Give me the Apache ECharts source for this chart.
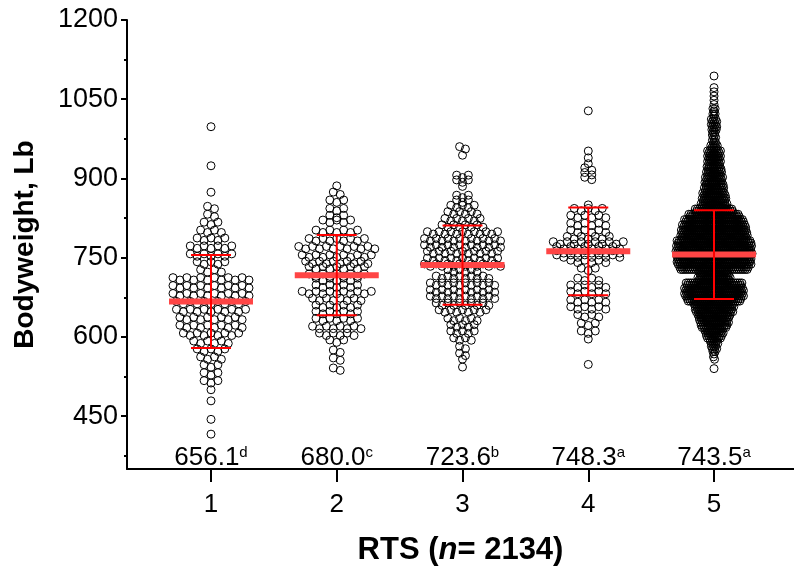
<!DOCTYPE html>
<html><head><meta charset="utf-8">
<script src="https://cdn.jsdelivr.net/npm/echarts@6/dist/echarts.min.js"></script>
<style>html,body{margin:0;padding:0;background:#fff}#c{width:794px;height:571px}</style>
</head><body><div id="c"></div>
<script>
// ---------- data ----------
const categories = ['1', '2', '3', '4', '5'];

// each group: row values (Lb) and number of points in that row
const g1Values = [998, 924, 874, 845, 830, 815, 800, 785, 770, 755, 740, 725, 710, 695, 680, 665, 650, 635, 620, 605, 590, 575, 560, 545, 530, 515, 500, 479, 444, 416];
const g1Counts = [1, 1, 1, 2, 2, 3, 4, 5, 7, 7, 5, 4, 12, 12, 12, 11, 11, 10, 10, 9, 6, 5, 4, 3, 3, 3, 1, 1, 1, 1];

const g2Values = [886, 872, 857, 841, 828, 819, 800, 784, 769, 753, 741, 731, 717, 709, 696, 684, 671, 658, 646, 633, 618, 605, 592, 573, 558, 539];
const g2Counts = [1, 2, 3, 3, 3, 5, 7, 9, 12, 11, 10, 9, 9, 7, 7, 11, 8, 7, 7, 7, 8, 6, 3, 2, 2, 2];

const g3Values = [958, 944, 904, 895, 885, 866, 857, 847, 835, 822, 810, 797, 784, 772, 760, 747, 736, 725, 713, 700, 687, 675, 662, 649, 633, 621, 609, 596, 580, 567, 558, 543];
const g3Counts = [2, 1, 3, 3, 1, 3, 3, 5, 6, 7, 8, 13, 14, 14, 13, 13, 14, 6, 10, 12, 12, 12, 10, 9, 6, 5, 5, 4, 2, 2, 1, 1];

const g4Values = [1028, 952, 939, 928, 918, 909, 900, 850, 841, 828, 813, 800, 788, 778, 769, 761, 753, 743, 728, 709, 696, 684, 668, 655, 640, 624, 609, 596, 548];
const g4Counts = [1, 1, 1, 1, 2, 2, 2, 1, 5, 6, 6, 6, 7, 11, 10, 10, 10, 6, 3, 4, 6, 6, 6, 6, 4, 3, 3, 1, 1];

const g5Values = [1094, 1072, 1064, 1056, 1048, 1040, 1030, 1020, 1010, 1000, 990, 980, 970, 960, 950, 940, 930, 920, 910, 900, 890, 880, 870, 860, 850, 840, 830, 820, 810, 800, 790, 780, 770, 760, 750, 740, 730, 720, 710, 700, 690, 680, 670, 660, 650, 640, 630, 620, 610, 600, 590, 580, 570, 560, 540];
const g5Counts = [1, 1, 1, 1, 1, 1, 3, 3, 6, 6, 5, 4, 4, 7, 13, 13, 13, 14, 15, 17, 18, 19, 22, 23, 25, 36, 48, 56, 60, 62, 63, 70, 71, 72, 70, 70, 65, 28, 31, 53, 56, 56, 51, 38, 36, 31, 28, 25, 18, 15, 8, 6, 3, 2, 1];

const means = [667, 717, 736, 762, 756];
const sds = [88, 76, 75, 83, 84];
const lsMeans = ['656.1', '680.0', '723.6', '748.3', '743.5'];
const letters = ['d', 'c', 'b', 'a', 'a'];
const catValues = [1, 2, 3, 4, 5];
const yTicks = [450, 600, 750, 900, 1050, 1200];
const yMinorTicks = [375, 525, 675, 825, 975, 1125];

// ---------- build ----------
const FONT = 'Liberation Sans, Arial, sans-serif';
const R = 4, SP = 7, MAXSPREAD = 76, ZIG = 1.2;
const groups = [[g1Values, g1Counts], [g2Values, g2Counts], [g3Values, g3Counts], [g4Values, g4Counts], [g5Values, g5Counts]];
const rowData = [];
groups.forEach((g, gi) => {
  const maxC = Math.max.apply(null, g[1]);
  g[0].forEach((v, i) => rowData.push([catValues[gi], v, g[1][i], maxC]));
});
const meanData = means.map((m, i) => [catValues[i], m, sds[i]]);

function renderDots(params, api) {
  const x = api.value(0), v = api.value(1), n = api.value(2), maxC = api.value(3);
  const p = api.coord([x, v]);
  const sp = maxC > 1 ? Math.min(SP, MAXSPREAD / (maxC - 1)) : SP;
  const children = [];
  for (let i = 0; i < n; i++) {
    const dy = n > 1 ? (i % 2 ? ZIG : -ZIG) : 0;
    children.push({
      type: 'circle',
      shape: { cx: p[0] + (i - (n - 1) / 2) * sp, cy: p[1] + dy, r: R },
      style: { fill: 'transparent', stroke: '#000', lineWidth: 1 }
    });
  }
  return { type: 'group', children };
}
function renderMean(params, api) {
  const x = api.value(0), m = api.value(1), s = api.value(2);
  const c = api.coord([x, m]), t = api.coord([x, m + s]), b = api.coord([x, m - s]);
  return {
    type: 'group', children: [
      { type: 'line', shape: { x1: c[0] - 42, y1: c[1], x2: c[0] + 42, y2: c[1] }, style: { stroke: '#ff4545', lineWidth: 6 } },
      { type: 'line', shape: { x1: c[0], y1: t[1], x2: c[0], y2: b[1] }, style: { stroke: '#ff0000', lineWidth: 2 } },
      { type: 'line', shape: { x1: c[0] - 20, y1: t[1], x2: c[0] + 20, y2: t[1] }, style: { stroke: '#ff0000', lineWidth: 2 } },
      { type: 'line', shape: { x1: c[0] - 20, y1: b[1], x2: c[0] + 20, y2: b[1] }, style: { stroke: '#ff0000', lineWidth: 2 } }
    ]
  };
}

const XMIN = 0.332, XMAX = 5.636;
const chart = echarts.init(document.getElementById('c'), null, { renderer: 'canvas' });
chart.setOption({
  animation: false,
  backgroundColor: '#fff',
  grid: { left: 127, right: 0, top: 20, bottom: 101 },
  xAxis: [{
    type: 'value', min: XMIN, max: XMAX,
    axisLine: { show: true, onZero: false, lineStyle: { color: '#000', width: 2 } },
    axisTick: { show: true, customValues: catValues, length: 13, lineStyle: { color: '#000', width: 2 } },
    axisLabel: { customValues: catValues, formatter: v => categories[Math.round(v) - 1], fontSize: 26, color: '#000', margin: 23, fontFamily: FONT },
    splitLine: { show: false },
    name: '{b|RTS (}{i|n}{b|= 2134)}', nameLocation: 'middle', nameGap: 66,
    nameTextStyle: {
      rich: {
        b: { fontSize: 31, fontWeight: 'bold', color: '#000', fontFamily: FONT },
        i: { fontSize: 31, fontWeight: 'bold', fontStyle: 'italic', color: '#000', fontFamily: FONT }
      }
    }
  }, {
    type: 'value', min: XMIN, max: XMAX, position: 'bottom',
    axisLine: { show: false }, axisTick: { show: false }, splitLine: { show: false },
    axisLabel: {
      inside: true, margin: -2, customValues: catValues,
      formatter: v => lsMeans[Math.round(v) - 1] + '{s|' + letters[Math.round(v) - 1] + '}',
      fontSize: 26, color: '#000', fontFamily: FONT,
      rich: { s: { fontSize: 15, color: '#000', fontFamily: FONT, verticalAlign: 'top' } }
    }
  }],
  yAxis: [{
    type: 'value', min: 350, max: 1200,
    axisLine: { show: true, lineStyle: { color: '#000', width: 2 } },
    axisTick: { show: true, customValues: yTicks, length: 6, lineStyle: { color: '#000', width: 2 } },
    axisLabel: { customValues: yTicks, formatter: v => String(v), fontSize: 27, color: '#000', margin: 9, fontFamily: FONT },
    splitLine: { show: false },
    name: 'Bodyweight, Lb', nameLocation: 'middle', nameGap: 88,
    nameTextStyle: { fontSize: 28, fontWeight: 'bold', color: '#000', fontFamily: FONT }
  }, {
    type: 'value', min: 350, max: 1200, position: 'left',
    axisLine: { show: false },
    axisTick: { show: true, customValues: yMinorTicks, length: 3, lineStyle: { color: '#000', width: 2 } },
    axisLabel: { show: false }, splitLine: { show: false }
  }],
  series: [{
    type: 'custom', renderItem: renderDots, data: rowData, silent: true, clip: false,
    encode: { x: 0, y: 1 }, xAxisIndex: 0, yAxisIndex: 0, z: 2
  }, {
    type: 'custom', renderItem: renderMean, data: meanData, silent: true, clip: false,
    encode: { x: 0, y: 1 }, xAxisIndex: 0, yAxisIndex: 0, z: 3
  }]
});
</script></body></html>
